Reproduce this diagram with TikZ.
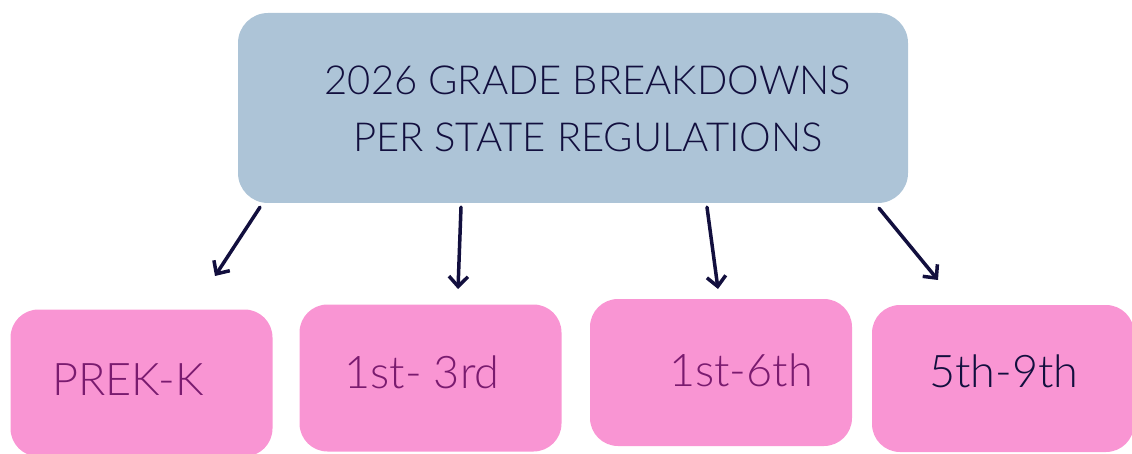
\documentclass[tikz,border=0pt]{standalone}
\usepackage{fontspec}
\setmainfont{Lato Light}
\usepackage{xcolor}
\usetikzlibrary{arrows.meta, positioning, calc}
\definecolor{headblue}{HTML}{ADC4D7}
\definecolor{gradepink}{HTML}{F995D3}
\definecolor{inknavy}{HTML}{120F3E}
\definecolor{inkpurple}{HTML}{7A1B6F}
\begin{document}
\begin{tikzpicture}[
    x=1pt, y=-1pt,
    head/.style={rectangle, fill=headblue, rounded corners=30pt, minimum width=670pt, minimum height=190pt},
    grade/.style={rectangle, fill=gradepink, rounded corners=28pt, minimum width=262pt, minimum height=147pt},
    gradetext/.style={text=inkpurple, font=\fontsize{45}{48}\selectfont, inner sep=0pt},
    arrow/.style={-{Straight Barb[length=10pt,width=19pt]}, line width=3.5pt, draw=inknavy, line cap=round, line join=round}
    ]
    \useasboundingbox (0,0) rectangle (1132,454);
    \node[head] (head) at (573,108) {};
    \node[text=inknavy, font=\fontsize{40}{57}\selectfont, align=center] (title) at (588,109) {2026 GRADE BREAKDOWNS\\PER STATE REGULATIONS};

    \node[grade] (prek) at (141.5,383) {};
    \node[grade] (early) at (430.5,378) {};
    \node[grade] (elem) at (721,372.5) {};
    \node[grade] (middle) at (1003,378.5) {};

    \node[gradetext] at (128,380) {PREK-K};
    \node[gradetext] at (422,372) {1st- 3rd};
    \node[gradetext] at (741,370) {1st-6th};
    \node[gradetext, text=inknavy] at (1004,371) {5th-9th};

    \coordinate (e1) at (215,276);
    \coordinate (e2) at (458,289);
    \coordinate (e3) at (718,289);
    \coordinate (e4) at (938,280);

    \draw[arrow] ([xshift=-313pt, yshift=-4pt]head.south) -- (e1);
    \draw[arrow] ([xshift=-112pt, yshift=-4pt]head.south) -- (e2);
    \draw[arrow] ([xshift=134pt, yshift=-4pt]head.south) -- (e3);
    \draw[arrow] ([xshift=306pt, yshift=-5pt]head.south) -- (e4);
  \end{tikzpicture}
\end{document}
